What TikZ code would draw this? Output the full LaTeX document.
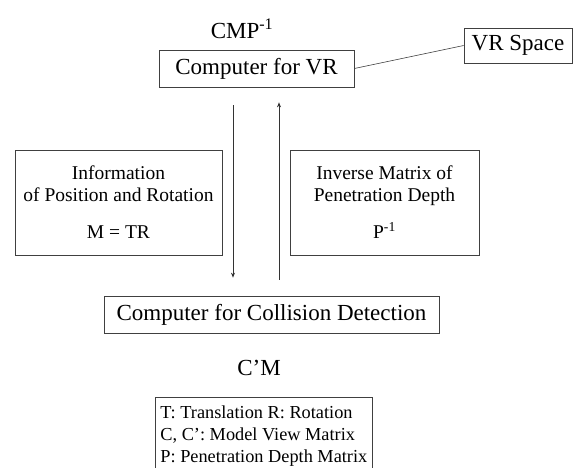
\documentclass[tikz,border=0pt]{standalone}
\usepackage{fontspec}
\setmainfont{Liberation Serif}
\usetikzlibrary{arrows.meta}

\begin{document}
\begin{tikzpicture}[x=1pt,y=-1pt]
      \tikzstyle{box} = [draw=black!75, line width=0.7pt, inner sep=0pt, align=center]
      \tikzstyle{big} = [font=\fontsize{23}{26}\selectfont]
      \tikzstyle{mid} = [font=\fontsize{19.5}{22}\selectfont]
      \clip (0,0) rectangle (577,467);
      % upper computer
      \node(cmp) at (242,29) [big] {CMP\textsuperscript{-1}};
      \node(vr) at (256.5,68.5) [box, big, minimum width=195, minimum height=37] {Computer for VR};
      \node(space) at (518,45.5) [box, big, minimum width=108, minimum height=35] {VR Space};
      \path[color=black!75, line width=0.6pt]
      (vr.east) edge (space.west);
      % what is sent
      \node(info) at (118.5,202.5) [box, mid, minimum width=207, minimum height=105]
      {Information\\of Position and Rotation\\[15pt]M = TR};
      \node(inv) at (384.5,202.5) [box, mid, minimum width=189, minimum height=105]
      {Inverse Matrix of\\Penetration Depth\\[15pt]P\textsuperscript{-1}};
      % lower computer
      \node(cd) at (271.5,314.5) [box, big, minimum width=335, minimum height=37] {Computer for Collision Detection};
      \node(cm) at (259,368) [big] {C’M};
      \node(legend) at (155,397) [box, anchor=north west, align=left, inner xsep=5pt, inner ysep=8pt,
        minimum width=217, font=\fontsize{18.3}{22}\selectfont]
      {T: Translation R: Rotation\\C, C’: Model View Matrix\\P: Penetration Depth Matrix};
      \coordinate(down) at ([xshift=-23.5pt]vr.south);
      \coordinate(up) at ([xshift=22.5pt]vr.south);
      \path[-{Stealth[length=5pt,width=4pt]}, color=black!80, line width=0.7pt]
      (down) edge[shorten <=18pt, shorten >=18pt] (down |- cd.north)
      (up |- cd.north) edge[shorten <=16pt, shorten >=15pt] (up);
    \end{tikzpicture}
\end{document}
